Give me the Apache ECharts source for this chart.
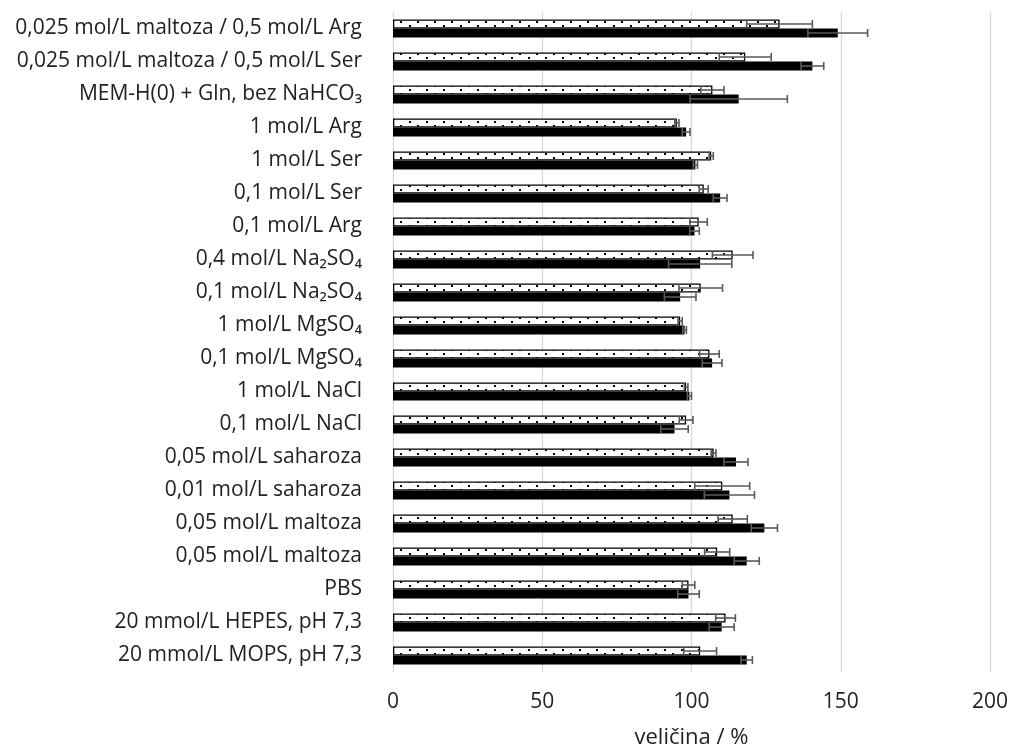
<!DOCTYPE html>
<html>
<head>
<meta charset="utf-8">
<script src="https://cdn.jsdelivr.net/npm/echarts@6/dist/echarts.min.js"></script>
<style>
  html, body { margin: 0; padding: 0; background: #fff; }
  #chart { width: 1013px; height: 753px; }
</style>
</head>
<body>
<div id="chart"></div>
<script>
// categories listed top to bottom
let categories = [
    '0,025 mol/L maltoza / 0,5 mol/L Arg',
    '0,025 mol/L maltoza / 0,5 mol/L Ser',
    'MEM-H(0) + Gln, bez NaHCO₃',
    '1 mol/L Arg',
    '1 mol/L Ser',
    '0,1 mol/L Ser',
    '0,1 mol/L Arg',
    '0,4 mol/L Na₂SO₄',
    '0,1 mol/L Na₂SO₄',
    '1 mol/L MgSO₄',
    '0,1 mol/L MgSO₄',
    '1 mol/L NaCl',
    '0,1 mol/L NaCl',
    '0,05 mol/L saharoza',
    '0,01 mol/L saharoza',
    '0,05 mol/L maltoza',
    '0,05 mol/L maltoza',
    'PBS',
    '20 mmol/L HEPES, pH 7,3',
    '20 mmol/L MOPS, pH 7,3'
];
let dottedValues = [129.5, 118, 107, 95.1, 106.6, 104.1, 102.4, 113.8, 103.1, 96.2, 106, 98.2, 98.2, 107.4, 110.3, 113.8, 108.6, 99, 111.4, 102.9];
let dottedErr = [11, 8.7, 3.9, 0.7, 0.7, 1.5, 2.9, 6.8, 7.3, 0.7, 3.3, 0.6, 2.3, 0.8, 9.2, 4.9, 4.2, 2.1, 3.3, 5.5];
let blackValues = [149, 140.5, 115.8, 98.2, 101.3, 109.6, 101, 102.9, 96.2, 97.7, 106.9, 99.3, 94.3, 114.9, 112.7, 124.4, 118.5, 99, 110.1, 118.5];
let blackErr = [10, 3.8, 16.3, 1.3, 0.7, 2.3, 1.6, 10.6, 5.3, 0.6, 3.3, 0.7, 4.6, 4, 8.4, 4.4, 4.2, 3.6, 4.2, 1.9];
let xTicks = [0, 50, 100, 150, 200];

let BAR_W = 9;
let font = 'Open Sans';

function dotPattern() {
    let c = document.createElement('canvas');
    c.width = 17; c.height = 8;
    let ctx = c.getContext('2d');
    ctx.fillStyle = '#fff';
    ctx.fillRect(0, 0, 17, 8);
    ctx.fillStyle = '#000';
    ctx.fillRect(1, 1, 2, 2);
    ctx.fillRect(9, 5, 2, 2);
    return c;
}

function errData(vals, errs) {
    return vals.map(function (v, i) { return [v - errs[i], v + errs[i], i]; });
}

function errRenderer(offset) {
    return function (params, api) {
        let lo = api.coord([api.value(0), api.value(2)]);
        let hi = api.coord([api.value(1), api.value(2)]);
        let y = lo[1] + offset;
        let cap = 4;
        let style = { stroke: '#595959', lineWidth: 1.6 };
        return {
            type: 'group',
            children: [
                { type: 'line', shape: { x1: lo[0], y1: y, x2: hi[0], y2: y }, style: style },
                { type: 'line', shape: { x1: lo[0], y1: y - cap, x2: lo[0], y2: y + cap }, style: style },
                { type: 'line', shape: { x1: hi[0], y1: y - cap, x2: hi[0], y2: y + cap }, style: style }
            ]
        };
    };
}

let chart = echarts.init(document.getElementById('chart'));
let option = {
    animation: false,
    grid: { left: 393, right: 23, top: 12, bottom: 81, outerBoundsMode: 'none' },
    xAxis: {
        type: 'value',
        min: 0, max: 200, interval: 50,
        name: 'veličina / %',
        nameLocation: 'middle',
        nameGap: 55,
        nameTextStyle: { fontFamily: font, fontSize: 22, color: '#222' },
        axisLine: { show: false },
        axisTick: { show: false },
        axisLabel: {
            fontFamily: font, fontSize: 21, color: '#222', margin: 20,
            formatter: function (v) { return xTicks.indexOf(v) >= 0 ? String(v) : ''; }
        },
        splitLine: { lineStyle: { color: '#d9d9d9', width: 1.3 } }
    },
    yAxis: {
        type: 'category',
        inverse: true,
        data: categories,
        axisLine: { show: false },
        axisTick: { show: false },
        axisLabel: { fontFamily: font, fontSize: 21, color: '#222', margin: 31 }
    },
    series: [
        {
            name: 'dotted', type: 'bar', data: dottedValues,
            barWidth: BAR_W, barGap: '0%',
            itemStyle: {
                color: { image: dotPattern(), repeat: 'repeat' },
                borderColor: '#000', borderWidth: 1.3
            }
        },
        {
            name: 'black', type: 'bar', data: blackValues,
            barWidth: BAR_W, barGap: '0%',
            itemStyle: { color: '#000' }
        },
        {
            type: 'custom', data: errData(dottedValues, dottedErr),
            encode: { x: [0, 1], y: 2 }, z: 5,
            renderItem: errRenderer(-BAR_W / 2)
        },
        {
            type: 'custom', data: errData(blackValues, blackErr),
            encode: { x: [0, 1], y: 2 }, z: 5,
            renderItem: errRenderer(BAR_W / 2)
        }
    ]
};
chart.setOption(option);
</script>
</body>
</html>
